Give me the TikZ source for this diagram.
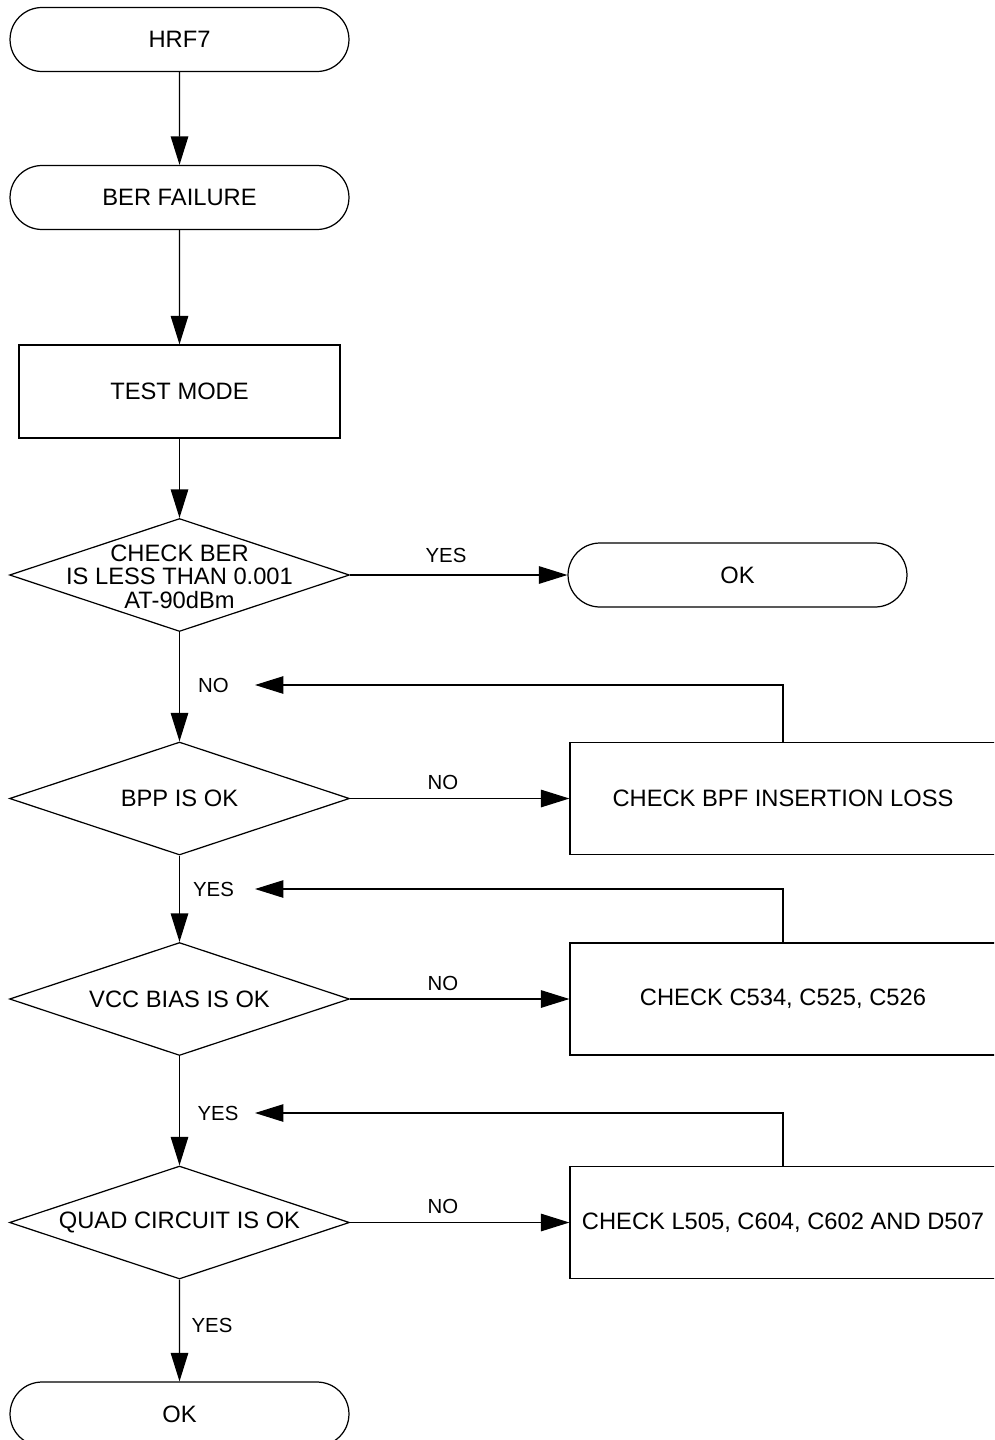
\documentclass[tikz,border=0pt]{standalone}
\usepackage{fontspec}
\setmainfont{Liberation Sans}
\usepackage{tikz}
\usetikzlibrary{arrows.meta,shapes.geometric,shapes.misc}
\tikzset{
  every picture/.style={line width=0.7pt},
  flowtext/.style={font=\fontsize{13.5pt}{13.3pt}\selectfont},
  termbox/.style={
    draw,
    rounded rectangle,
    rounded rectangle arc length=180,
    minimum width=6.78cm,
    minimum height=1.28cm,
    inner sep=0pt,
    flowtext
  },
  procbox/.style={draw, minimum width=6.42cm, minimum height=1.86cm, inner sep=0pt, flowtext},
  checkbox/.style={draw, minimum width=8.52cm, minimum height=2.24cm, inner sep=0pt, flowtext},
  decbox/.style={
    draw,
    diamond,
    shape aspect=3,
    minimum width=6.8cm,
    minimum height=2.26cm,
    inner sep=0pt,
    flowtext
  },
  dectext/.style={align=center, inner sep=0pt, flowtext},
  flowarrow/.style={-{Triangle[length=0.57cm, width=0.35cm]}},
  tinylabel/.style={font=\fontsize{11.6pt}{13pt}\selectfont, inner sep=0pt}
}

\begin{document}
\begin{tikzpicture}[x=0.02cm, y=-0.02cm]
  \useasboundingbox (0,0) rectangle (994,1440);
  \clip (0,0) rectangle (994,1440);

  \node[termbox] (start) at (179.5,39.5) {HRF7};
  \node[termbox] (fail) at (179.5,197.5) {BER FAILURE};
  \node[procbox] (mode) at (179.5,391.5) {TEST MODE};
  \node[decbox] (ber) at (179.5,575) {};
  \node[dectext] (bertxt) at (179.5,576.5) {CHECK BER\\IS LESS THAN 0.001\\AT-90dBm};
  \node[termbox] (okA) at (737.5,575) {OK};

  \node[decbox] (bpp) at (179.5,798.5) {BPP IS OK};
  \node[checkbox] (bpf) at (783,798.5) {CHECK BPF INSERTION LOSS};
  \node[decbox] (vcc) at (179.5,999) {VCC BIAS IS OK};
  \node[checkbox] (caps) at (783,999) {CHECK C534, C525, C526};
  \node[decbox] (quad) at (179.5,1222.5) {QUAD CIRCUIT IS OK};
  \node[checkbox] (parts) at (783,1222.5) {CHECK L505, C604, C602 AND D507};
  \node[termbox] (okB) at (179.5,1414) {OK};

  \node[tinylabel] (yesA) at (446,555) {YES};
  \node[tinylabel] (noA) at (213.5,685) {NO};
  \node[tinylabel] (noB) at (443,782) {NO};
  \node[tinylabel] (yesB) at (213.5,889) {YES};
  \node[tinylabel] (noC) at (443,983) {NO};
  \node[tinylabel] (yesC) at (218,1113) {YES};
  \node[tinylabel] (noD) at (443,1206) {NO};
  \node[tinylabel] (yesD) at (212,1325.5) {YES};

  \coordinate (backA) at (255,685);
  \coordinate (backB) at (255,889);
  \coordinate (backC) at (255,1113);

  \draw[flowarrow] (start) -- (fail);
  \draw[flowarrow] (fail) -- (mode);
  \draw[flowarrow] (mode) -- (ber);
  \draw[flowarrow] (ber) -- (okA);
  \draw[flowarrow] (ber) -- (bpp);
  \draw[flowarrow] (bpp) -- (bpf);
  \draw[flowarrow] (bpp) -- (vcc);
  \draw[flowarrow] (vcc) -- (caps);
  \draw[flowarrow] (vcc) -- (quad);
  \draw[flowarrow] (quad) -- (parts);
  \draw[flowarrow] (quad) -- (okB);

  \draw[flowarrow] (bpf.north) |- (backA);
  \draw[flowarrow] (caps.north) |- (backB);
  \draw[flowarrow] (parts.north) |- (backC);
\end{tikzpicture}
\end{document}
